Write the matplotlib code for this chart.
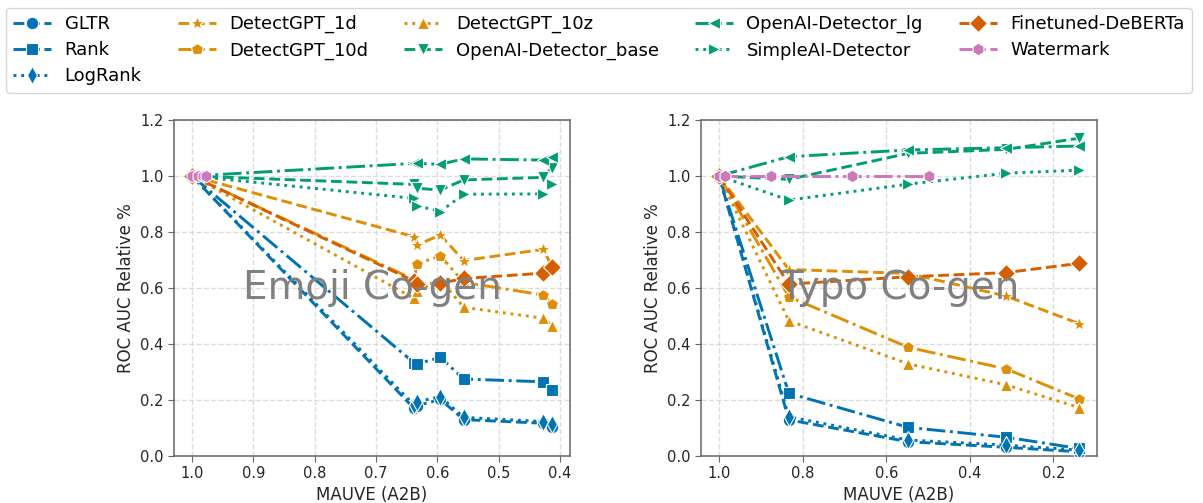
import matplotlib
matplotlib.use("Agg")
import matplotlib.pyplot as plt
from matplotlib.lines import Line2D

# ---------------- data ----------------
methods = ["GLTR", "Rank", "LogRank", "DetectGPT_1d", "DetectGPT_10d", "DetectGPT_10z",
           "OpenAI-Detector_base", "OpenAI-Detector_lg", "SimpleAI-Detector",
           "Finetuned-DeBERTa", "Watermark"]

# Emoji Co-gen (left panel)
emoji_x = [1.0, 0.638, 0.633, 0.595, 0.557, 0.427, 0.413]
emoji_wm_x = [1.0, 0.99, 0.982, 0.977]
emoji_gltr = [1.0, 0.170, 0.180, 0.202, 0.130, 0.117, 0.105]
emoji_rank = [1.0, 0.333, 0.329, 0.352, 0.275, 0.265, 0.236]
emoji_logrank = [1.0, 0.182, 0.194, 0.212, 0.138, 0.123, 0.114]
emoji_dgpt_1d = [1.0, 0.783, 0.754, 0.789, 0.698, 0.738, 0.675]
emoji_dgpt_10d = [1.0, 0.630, 0.686, 0.715, 0.620, 0.575, 0.542]
emoji_dgpt_10z = [1.0, 0.563, 0.590, 0.630, 0.531, 0.492, 0.465]
emoji_oai_base = [1.0, 0.970, 0.956, 0.950, 0.986, 0.995, 1.030]
emoji_oai_lg = [1.0, 1.045, 1.045, 1.042, 1.061, 1.057, 1.067]
emoji_simpleai = [1.0, 0.920, 0.894, 0.873, 0.935, 0.936, 0.970]
emoji_deberta = [1.0, 0.625, 0.615, 0.617, 0.634, 0.653, 0.674]
emoji_watermark = [1.0, 1.0, 1.0, 1.0]

# Typo Co-gen (right panel)
typo_x = [1.0, 0.833, 0.547, 0.313, 0.139]
typo_wm_x = [1.0, 0.986, 0.876, 0.683, 0.498]
typo_gltr = [1.0, 0.129, 0.051, 0.031, 0.015]
typo_rank = [1.0, 0.224, 0.102, 0.067, 0.027]
typo_logrank = [1.0, 0.140, 0.057, 0.039, 0.021]
typo_dgpt_1d = [1.0, 0.666, 0.652, 0.571, 0.473]
typo_dgpt_10d = [1.0, 0.569, 0.388, 0.311, 0.204]
typo_dgpt_10z = [1.0, 0.483, 0.329, 0.254, 0.173]
typo_oai_base = [1.0, 0.988, 1.081, 1.095, 1.135]
typo_oai_lg = [1.0, 1.069, 1.093, 1.101, 1.107]
typo_simpleai = [1.0, 0.914, 0.971, 1.010, 1.021]
typo_deberta = [1.0, 0.614, 0.640, 0.655, 0.688]
typo_watermark = [1.0, 1.0, 1.0, 1.0, 1.0]

emoji_ticks = [1.0, 0.9, 0.8, 0.7, 0.6, 0.5, 0.4]
typo_ticks = [1.0, 0.8, 0.6, 0.4, 0.2]
y_ticks = [0.0, 0.2, 0.4, 0.6, 0.8, 1.0, 1.2]

# ---------------- styles ----------------
BLUE, ORANGE, GREEN, VERM, PINK = "#0173B2", "#DE8F05", "#029E73", "#D55E00", "#CC78BC"
colors = [BLUE, BLUE, BLUE, ORANGE, ORANGE, ORANGE, GREEN, GREEN, GREEN, VERM, PINK]
markers = ["o", "s", "d", "*", "p", "^", "v", "<", ">", "D", "h"]
lstyles = ["--", "-.", ":", "--", "-.", ":", "--", "-.", ":", "--", "-."]

emoji_series = [emoji_gltr, emoji_rank, emoji_logrank, emoji_dgpt_1d, emoji_dgpt_10d,
                emoji_dgpt_10z, emoji_oai_base, emoji_oai_lg, emoji_simpleai,
                emoji_deberta, emoji_watermark]
typo_series = [typo_gltr, typo_rank, typo_logrank, typo_dgpt_1d, typo_dgpt_10d,
               typo_dgpt_10z, typo_oai_base, typo_oai_lg, typo_simpleai,
               typo_deberta, typo_watermark]

plt.rcParams["font.family"] = ["DejaVu Sans"]

W, H = 1203, 503
fig = plt.figure(figsize=(W / 100, H / 100), dpi=100)
ax1 = fig.add_axes([174 / W, 1 - 456 / H, 396 / W, 336 / H])
ax2 = fig.add_axes([701 / W, 1 - 456 / H, 396 / W, 336 / H])

MS = 9
LW = 2.1


def msize(m):
    return MS + 1.5 if m == "*" else MS


def draw(ax, xs, wm_x, series, ticks, title):
    for i, (name, ys) in enumerate(zip(methods, series)):
        x = wm_x if name == "Watermark" else xs
        ax.plot(x, ys, color=colors[i], marker=markers[i], linestyle=lstyles[i],
                lw=LW, ms=msize(markers[i]),
                markeredgecolor="white", markeredgewidth=0.8, zorder=3)
    ax.set_ylim(0, 1.2)
    ax.set_yticks(y_ticks)
    ax.set_xticks(ticks)
    ax.set_xticklabels([f"{t:.1f}" for t in ticks])
    ax.set_yticklabels([f"{t:.1f}" for t in y_ticks])
    ax.invert_xaxis()
    ax.grid(True, color="#dcdcdc", linestyle="--", lw=1.0, zorder=0)
    ax.set_axisbelow(True)
    for s in ax.spines.values():
        s.set_color("#666666")
        s.set_linewidth(1.1)
    ax.tick_params(labelsize=10.5, colors="#262626", length=4, color="#666666")
    ax.set_xlabel("MAUVE (A2B)", fontsize=12, color="#262626", labelpad=3)
    ax.set_ylabel("ROC AUC Relative %", fontsize=12, color="#262626")
    ax.text(0.5, 0.5, title, transform=ax.transAxes, ha="center", va="center",
            fontsize=28, color="#808080", zorder=10)


draw(ax1, emoji_x, emoji_wm_x, emoji_series, emoji_ticks, "Emoji Co-gen")
draw(ax2, typo_x, typo_wm_x, typo_series, typo_ticks, "Typo Co-gen")

handles = [Line2D([], [], color=colors[i], marker=markers[i], linestyle=lstyles[i],
                  lw=LW, ms=msize(markers[i]),
                  markeredgecolor="white", markeredgewidth=0.8)
           for i in range(len(methods))]
fig.legend(handles, methods, loc="upper left", bbox_to_anchor=(6 / W, 1 - 8 / H),
           ncol=5, fontsize=13, frameon=True, borderaxespad=0,
           columnspacing=2.0, handlelength=2.1, handletextpad=0.75,
           labelspacing=0.45, edgecolor="#cccccc", fancybox=True)

fig.savefig("out.png", dpi=100)
